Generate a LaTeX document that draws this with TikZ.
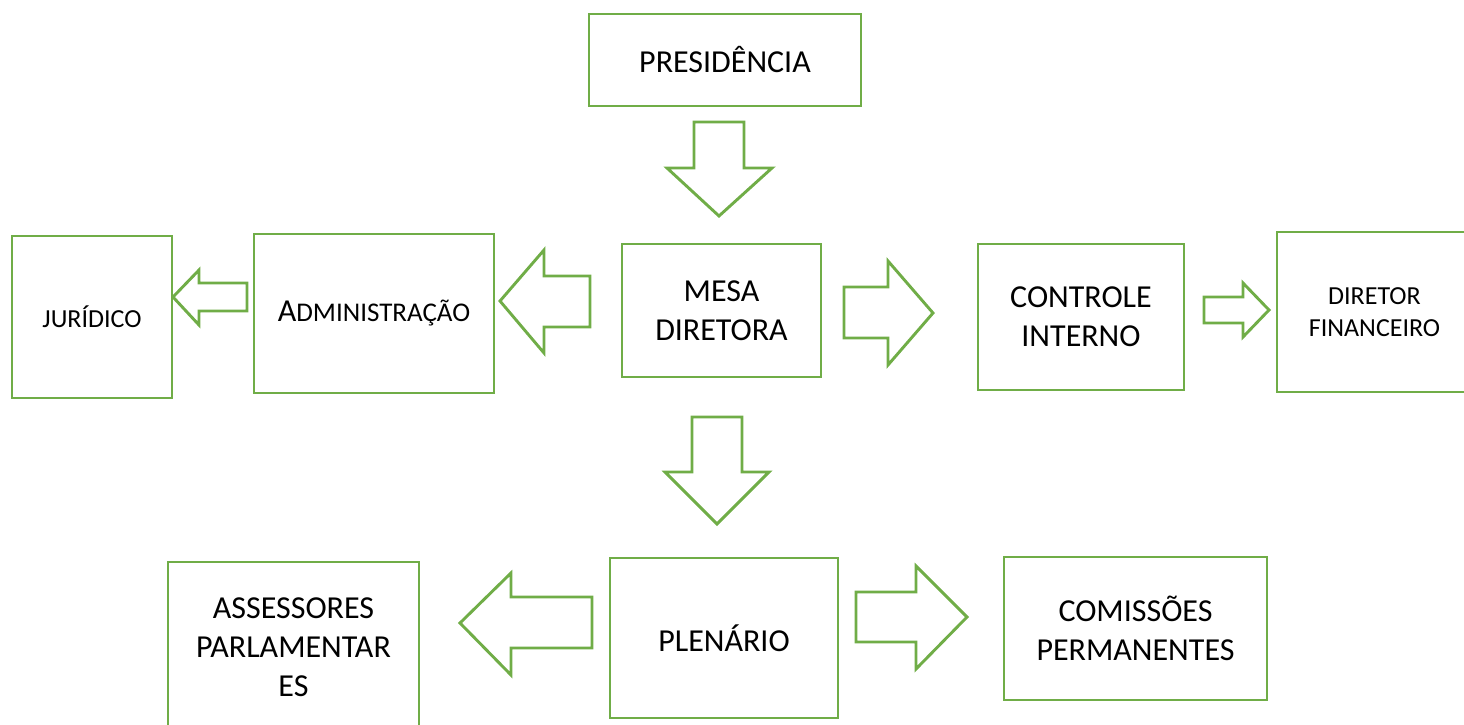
\documentclass[tikz,border=0pt]{standalone}
\usepackage{fontspec}
\setmainfont{Carlito}
\definecolor{wgreen}{HTML}{70AD47}
\tikzset{
  box/.style={draw=wgreen, line width=2.9pt, fill=white, inner sep=0pt, align=center, font=\fontsize{32}{39}\selectfont},
  smallbox/.style={box, font=\fontsize{26}{32}\selectfont},
  blockarrow/.style={draw=wgreen, line width=2.9pt, fill=white, line join=miter}
}
\begin{document}
\begin{tikzpicture}[x=1pt,y=-1pt]
\useasboundingbox (0,0) rectangle (1464,724);
\node[box, minimum width=272pt, minimum height=92pt] (pres) at (725,60) {PRESIDÊNCIA};
\node[box, minimum width=199pt, minimum height=133pt] (mesa) at (721.5,310.5) {MESA\\DIRETORA};
\node[box, minimum width=240pt, minimum height=159pt] (admin) at (374,313.5) {A{\fontsize{27}{32}\selectfont DMINISTRAÇÃO}};
\node[smallbox, minimum width=160pt, minimum height=162pt] (jur) at (92,317) {JURÍDICO};
\node[box, minimum width=206pt, minimum height=146pt] (ctrl) at (1081,317) {CONTROLE\\INTERNO};
\node[smallbox, minimum width=195pt, minimum height=160pt] (dir) at (1374.5,312) {DIRETOR\\FINANCEIRO};
\node[box, minimum width=228pt, minimum height=160pt] (plen) at (724,638) {PLENÁRIO};
\node[box, minimum width=251pt, minimum height=170pt] (ass) at (293.5,647) {ASSESSORES\\PARLAMENTAR\\ES};
\node[box, minimum width=263pt, minimum height=143pt] (com) at (1135.5,628.5) {COMISSÕES\\PERMANENTES};
% block arrows
\draw[blockarrow] (694,122) -- (744,122) -- (744,168) -- (772,168) -- (719,216) -- (667,168) -- (694,168) -- cycle;
\draw[blockarrow] (590,276) -- (590,327) -- (544,327) -- (544,353) -- (500,301) -- (544,250) -- (544,276) -- cycle;
\draw[blockarrow] (247,283) -- (247,311) -- (199,311) -- (199,325) -- (173,297) -- (199,270) -- (199,283) -- cycle;
\draw[blockarrow] (844,287) -- (888,287) -- (888,261) -- (933,313) -- (888,365) -- (888,338) -- (844,338) -- cycle;
\draw[blockarrow] (1204,297) -- (1243,297) -- (1243,283) -- (1269,310) -- (1243,337) -- (1243,323) -- (1204,323) -- cycle;
\draw[blockarrow] (692,417) -- (742,417) -- (742,472) -- (769,472) -- (717,524) -- (665,472) -- (692,472) -- cycle;
\draw[blockarrow] (592,597) -- (592,648) -- (511,648) -- (511,675) -- (460,623) -- (511,573) -- (511,597) -- cycle;
\draw[blockarrow] (856,592) -- (916,592) -- (916,566) -- (967,617) -- (916,669) -- (916,642) -- (856,642) -- cycle;
\end{tikzpicture}
\end{document}
